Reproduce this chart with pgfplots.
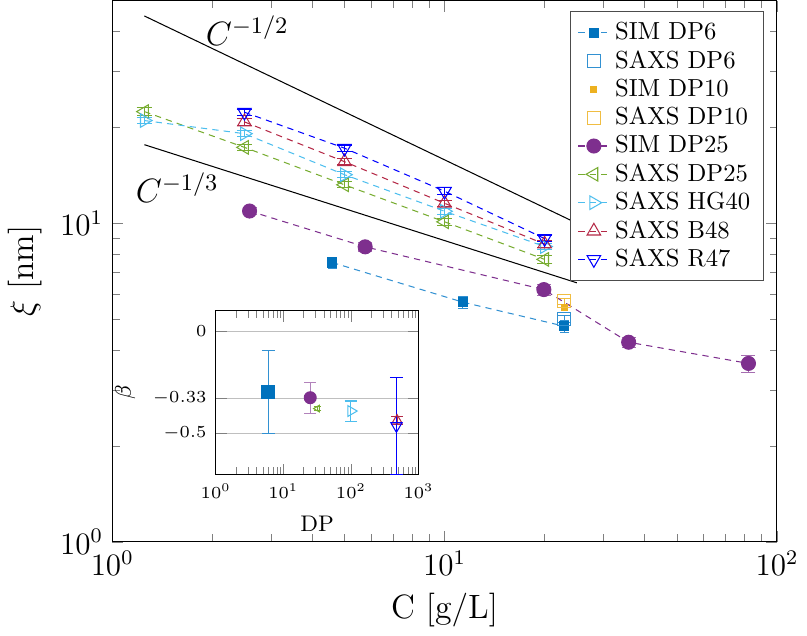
\RequirePackage{fix-cm}
\documentclass[border=0pt]{standalone}
\usepackage{pgfplots}
\pgfplotsset{compat=1.18}
\definecolor{cblue}{RGB}{0,114,189}
\definecolor{cbluel}{RGB}{50,145,210}
\definecolor{corange}{RGB}{237,177,32}
\definecolor{cpurple}{RGB}{126,47,142}
\definecolor{cgreen}{RGB}{119,172,48}
\definecolor{ccyan}{RGB}{77,190,238}
\definecolor{cred}{RGB}{180,40,70}
\pgfplotsset{shortleg/.style={legend image code/.code={\draw[mark repeat=2,mark phase=2] plot coordinates {(0cm,0cm) (0.21cm,0cm) (0.42cm,0cm)};}}}
\begin{document}
\begin{tikzpicture}
\begin{axis}[
  scale only axis, width=256.2pt, height=208.6pt,
  xmode=log, ymode=log, xmin=1, xmax=100, ymin=1, ymax=50,
  xtick={1,10,100}, ytick={1,10},
  minor ytick={2,3,4,5,6,7,8,9,20,30,40},
  xlabel={C [g/L]}, ylabel={$\xi$ [nm]},
  tick label style={font=\fontsize{12}{14}\selectfont},
  label style={font=\fontsize{13}{15}\selectfont},
  legend style={font=\fontsize{9.5}{11}\selectfont, at={(0.98,0.98)}, anchor=north east, fill=white, draw=black!70, row sep=-1.35pt},
  legend cell align=left,
  error bars/error bar style={solid, line width=0.4pt},
  every axis plot/.append style={line width=0.4pt},
]
\addplot[black, forget plot] coordinates {(1.25,44.72) (25,10)};
\addplot[black, forget plot] coordinates {(1.25,17.64) (25,6.50)};
\node at (axis cs:2.55,40.2) {\fontsize{13}{15}\selectfont $C^{-1/2}$};
\node at (axis cs:1.57,12.9) {\fontsize{13}{15}\selectfont $C^{-1/3}$};

\addplot[cbluel, dash pattern=on 2.4pt off 2pt, mark=square*, mark size=1.75pt,
  mark options={solid, fill=cblue, draw=cblue}, shortleg,
  error bars/.cd, y dir=both, y explicit]
  coordinates {(4.59,7.53) +- (0,0.3) (11.36,5.65) +- (0,0.25) (22.9,4.75) +- (0,0.2)};
\addlegendentry{SIM DP6}
\addplot[cbluel, only marks, mark=square, mark size=2.5pt, shortleg,
  error bars/.cd, y dir=both, y explicit]
  coordinates {(22.9,5.0) +- (0,0.12)};
\addlegendentry{SAXS DP6}
\addplot[corange, only marks, mark=square*, mark size=1.2pt, shortleg,
  error bars/.cd, y dir=both, y explicit]
  coordinates {(22.9,5.44) +- (0,0.1)};
\addlegendentry{SIM DP10}
\addplot[corange!85, only marks, mark=square, mark size=2.5pt, shortleg,
  error bars/.cd, y dir=both, y explicit]
  coordinates {(22.9,5.68) +- (0,0.12)};
\addlegendentry{SAXS DP10}
\addplot[cpurple, dash pattern=on 2.4pt off 2pt, mark=*, mark size=2.7pt,
  mark options={solid, fill=cpurple}, shortleg,
  error bars/.cd, y dir=both, y explicit, error bar style={cpurple!70}]
  coordinates {(2.59,10.92) +- (0,0.3) (5.77,8.43) +- (0,0.25) (19.9,6.19) +- (0,0.25) (35.8,4.23) +- (0,0.15) (82.1,3.63) +- (0,0.22)};
\addlegendentry{SIM DP25}
\addplot[cgreen, dash pattern=on 2.4pt off 2pt, mark=triangle, mark size=3pt,
  mark options={solid, rotate=90}, shortleg,
  error bars/.cd, y dir=both, y explicit]
  coordinates {(1.25,22.4) +- (0,0.6) (2.5,17.3) +- (0,0.4) (5,13.2) +- (0,0.3) (10,10.1) +- (0,0.25) (20,7.7) +- (0,0.2)};
\addlegendentry{SAXS DP25}
\addplot[ccyan, dash pattern=on 2.4pt off 2pt, mark=triangle, mark size=3pt,
  mark options={solid, rotate=270}, shortleg,
  error bars/.cd, y dir=both, y explicit]
  coordinates {(1.25,21.0) +- (0,0.5) (2.5,19.1) +- (0,0.4) (5,14.2) +- (0,0.3) (10,10.9) +- (0,0.25) (20,8.45) +- (0,0.2)};
\addlegendentry{SAXS HG40}
\addplot[cred, dash pattern=on 2.4pt off 2pt, mark=triangle, mark size=3pt,
  mark options={solid}, shortleg,
  error bars/.cd, y dir=both, y explicit]
  coordinates {(2.5,20.8) +- (0,0.5) (5,15.6) +- (0,0.35) (10,11.55) +- (0,0.25) (20,8.6) +- (0,0.2)};
\addlegendentry{SAXS B48}
\addplot[blue, dash pattern=on 2.4pt off 2pt, mark=triangle, mark size=3pt,
  mark options={solid, rotate=180}, shortleg,
  error bars/.cd, y dir=both, y explicit]
  coordinates {(2.5,22.3) +- (0,0.5) (5,17.2) +- (0,0.4) (10,12.6) +- (0,0.3) (20,8.95) +- (0,0.2)};
\addlegendentry{SAXS R47}
\end{axis}

\begin{axis}[
  at={(39.9pt,25.9pt)}, anchor=south west,
  scale only axis, width=78.2pt, height=63.2pt,
  xmode=log, xmin=1, xmax=1000, ymin=-0.7, ymax=0.1,
  xtick={1,10,100,1000},
  ytick={0,-0.33,-0.5}, yticklabels={$0$,$-0.33$,$-0.5$},
  ymajorgrids, major grid style={black!25},
  axis background/.style={fill=white},
  xlabel={DP}, ylabel={$\beta$},
  tick label style={font=\fontsize{6.5}{8}\selectfont},
  label style={font=\fontsize{8.7}{10}\selectfont},
  error bars/error bar style={solid, line width=0.4pt},
  every axis plot/.append style={line width=0.4pt},
]
\addplot[cblue, mark=square*, mark size=2.5pt,
  error bars/.cd, y dir=both, y explicit, error bar style={cbluel}]
  coordinates {(6,-0.297) +- (0,0.203)};
\addplot[cpurple, mark=*, mark size=2.3pt,
  error bars/.cd, y dir=both, y explicit, error bar style={cpurple!60}]
  coordinates {(25,-0.325) +- (0,0.075)};
\addplot[cgreen, mark=triangle, mark size=1.5pt, mark options={rotate=90},
  error bars/.cd, y dir=both, y explicit]
  coordinates {(32,-0.378) +- (0,0.01)};
\addplot[ccyan, mark=triangle, mark size=2.4pt, mark options={rotate=270},
  error bars/.cd, y dir=both, y explicit]
  coordinates {(100,-0.39) +- (0,0.049)};
\addplot[cred, mark=triangle, mark size=2.2pt,
  error bars/.cd, y dir=both, y explicit]
  coordinates {(480,-0.435) +- (0,0.02)};
\addplot[blue, mark=triangle, mark size=2.5pt, mark options={rotate=180},
  error bars/.cd, y dir=both, y explicit]
  coordinates {(470,-0.4625) +- (0,0.235)};
\end{axis}
\end{tikzpicture}
\end{document}
